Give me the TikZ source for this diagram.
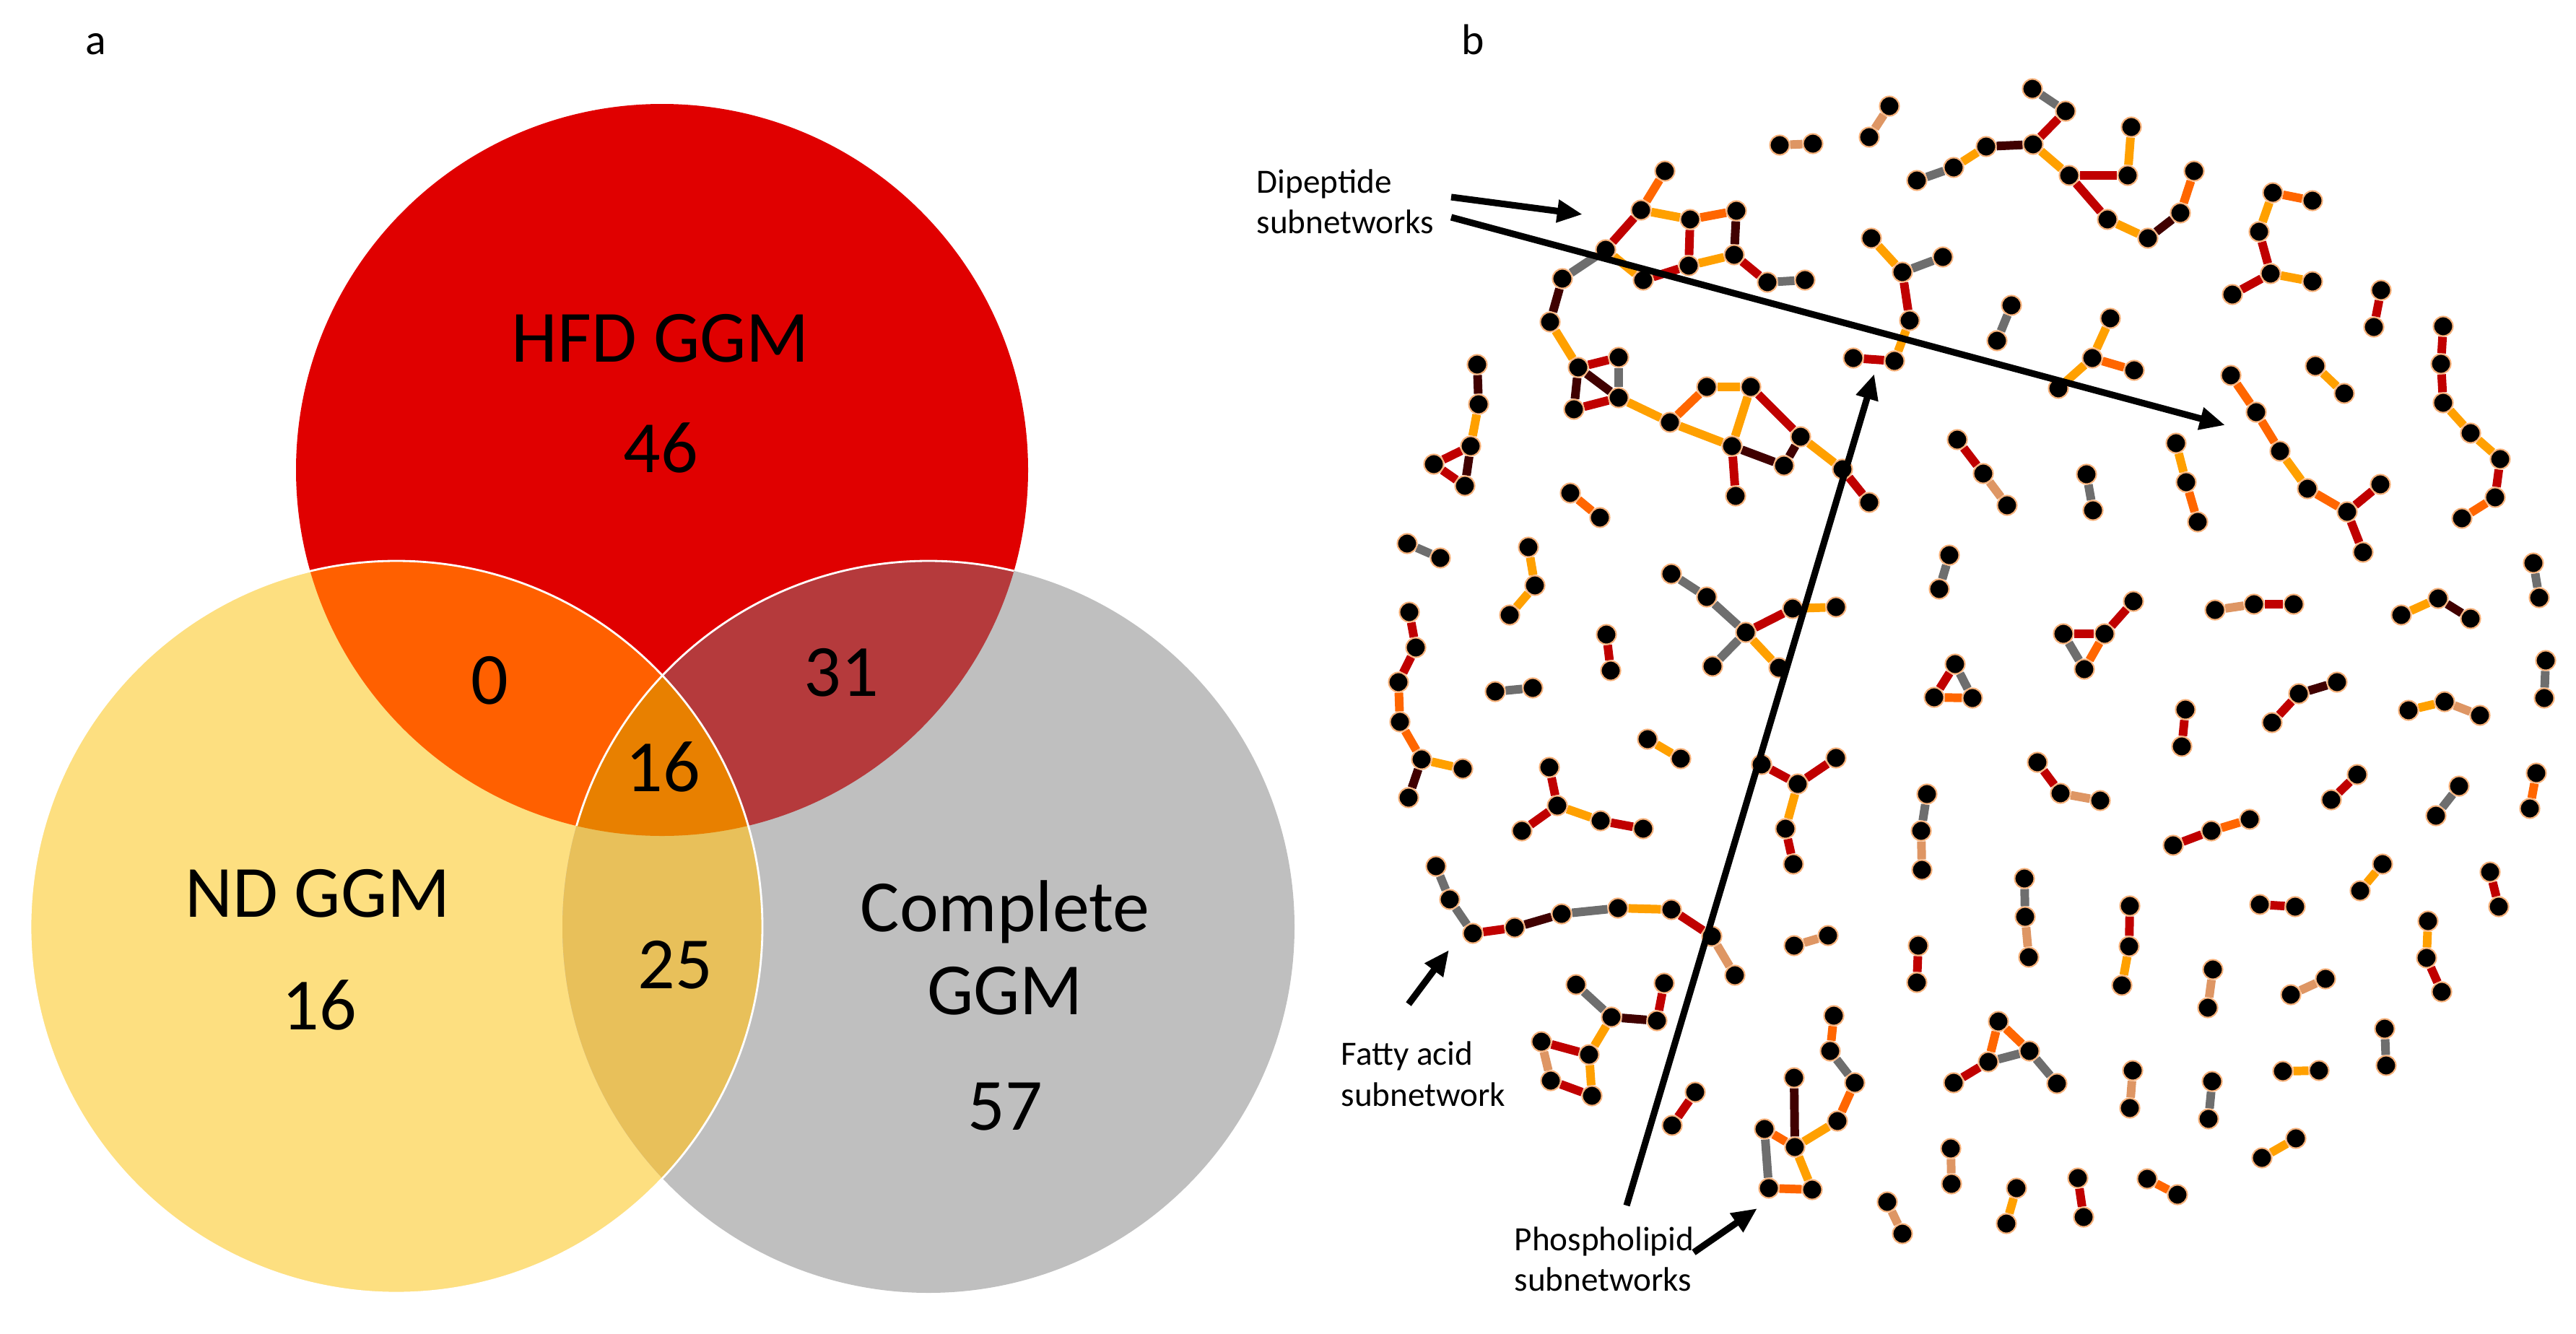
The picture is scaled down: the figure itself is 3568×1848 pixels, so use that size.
\documentclass[tikz,border=0pt]{standalone}
\usepackage{fontspec}
\setmainfont{Carlito}
\usetikzlibrary{arrows.meta}
\pgfdeclarelayer{edges}
\pgfsetlayers{edges,main}

\definecolor{hfdfill}{RGB}{224,0,0}
\definecolor{ndfill}{RGB}{253,223,128}
\definecolor{cgmfill}{RGB}{191,191,191}
\definecolor{hfdnd}{RGB}{255,96,0}
\definecolor{hfdcgm}{RGB}{181,58,60}
\definecolor{ndcgm}{RGB}{232,192,90}
\definecolor{allfill}{RGB}{232,128,0}
\definecolor{lamber}{RGB}{255,160,0}
\definecolor{lorange}{RGB}{255,102,0}
\definecolor{lred}{RGB}{192,0,0}
\definecolor{ldark}{RGB}{64,0,0}
\definecolor{lgray}{RGB}{110,110,110}
\definecolor{ltan}{RGB}{222,150,100}
\definecolor{ring}{RGB}{245,175,120}

\tikzset{
  met/.style={circle, fill=black, draw=ring, line width=0.6pt, minimum size=0.27cm, inner sep=0pt},
  eamb/.style={draw=lamber, line width=3.4pt},
  eorg/.style={draw=lorange, line width=3.4pt},
  ered/.style={draw=lred, line width=3.4pt},
  edrk/.style={draw=ldark, line width=3.4pt},
  egry/.style={draw=lgray, line width=3.4pt},
  etan/.style={draw=ltan, line width=3.4pt},
  vlab/.style={font=\fontsize{29}{35}\selectfont, anchor=base, inner sep=0pt},
  slab/.style={font=\fontsize{13.4}{16}\selectfont, anchor=base west, inner sep=0pt},
  plab/.style={font=\fontsize{17}{20}\selectfont, anchor=base west, inner sep=0pt},
  callout/.style={-{Triangle[length=10pt,width=8.5pt]}, line width=2.6pt}
}

\begin{document}
\begin{tikzpicture}[x=0.01cm, y=-0.01cm]
\useasboundingbox (0,0) rectangle (3568,1848);

\coordinate (hfd) at (917,651);
\coordinate (nd) at (549,1284);
\coordinate (cgm) at (1286,1284);
\fill[hfdfill] (hfd) circle (507);
\fill[ndfill] (nd) circle (507);
\fill[cgmfill] (cgm) circle (507);
\begin{scope}
\clip (hfd) circle (507);
\fill[hfdnd] (nd) circle (507);
\fill[hfdcgm] (cgm) circle (507);
\end{scope}
\begin{scope}
\clip (nd) circle (507);
\fill[ndcgm] (cgm) circle (507);
\clip (hfd) circle (507);
\fill[allfill] (cgm) circle (507);
\end{scope}
\draw[white, line width=0.8pt] (nd) circle (507);
\begin{scope}
\clip (hfd) circle (507);
\draw[white, line width=0.8pt] (cgm) circle (507);
\end{scope}

\node[vlab] (hfdlab) at (915,501) {HFD GGM};
\node[vlab] (hfdnum) at (915,654) {46};
\node[vlab] (hnnum) at (678,975) {0};
\node[vlab] (hcnum) at (1165,964) {31};
\node[vlab] (allnum) at (918,1096) {16};
\node[vlab] (ndlab) at (440,1270) {ND GGM};
\node[vlab] (ndnum) at (442,1426) {16};
\node[vlab] (ncnum) at (935,1369) {25};
\node[vlab] (cgmlab) at (1392,1290) {Complete};
\node[vlab] (cgmlab2) at (1392,1405) {GGM};
\node[vlab] (cgmnum) at (1392,1565) {57};

\node[plab] (pa) at (118,75) {a};
\node[plab] (pb) at (2024,75) {b};

\foreach \n/\x/\y in {d1a/2465/201, d1b/2511/199, d2a/2589/190, d2b/2617/147,
  g0/2655/250, g1/2706/232, g2/2751/203, g3/2816/200, g4/2815/123, g5/2861/154, g6/2866/243,
  g7/2947/243, g8/2952/176, g9/2919/304, g10/2975/330, g11/3020/295, g12/3039/237,
  p1/3148/267, p2/3203/278, p3/3129/321, p4/3145/379, p5/3203/390, p6/3092/408,
  d3a/3298/402, d3b/3288/453,
  q1/3384/452, q2/3381/504, q3/3384/558, q4/3422/600, q5/3463/636, q6/3456/689, q7/3410/718,
  d4a/3207/507, d4b/3247/545,
  r1/3090/520, r2/3125/571, r3/3158/625, r4/3196/677, r5/3251/709, r6/3297/671, r7/3273/765,
  d5a/2786/423, d5b/2766/472,
  s1/2923/441, s2/2898/496, s3/2956/513, s4/2851/538,
  c6a/2711/609, c6b/2747/656, c6c/2780/700, d7a/2890/657, d7b/2899/707,
  c8a/3014/614, c8b/3028/668, c8c/3044/723}
  \node[met] (\n) at (\x,\y) {};

\foreach \n/\x/\y in {t1/2306/237, t2/2273/291, t3/2341/304, t4/2405/292, t5/2402/353,
  t6/2339/368, t7/2224/346, t8/2276/388, t9/2164/386, t10/2448/391, t11/2500/388,
  t12/2147/446, t13/2186/509, t14/2242/495, t15/2242/551, t16/2180/567, t17/2313/585,
  t18/2364/536, t19/2425/536, t20/2399/618, t21/2494/605, t22/2471/645, t23/2404/687,
  t24/2552/650, t25/2589/696,
  u1/2592/330, u2/2635/377, u3/2691/356, u4/2645/444, u5/2624/500, u6/2567/496,
  v1/2046/505, v2/2048/560, v3/2037/618, v4/1986/643, v5/2029/673,
  d9a/2175/683, d9b/2216/717, d10a/1949/753, d10b/1995/773,
  c11a/2117/758, c11b/2126/811, c11c/2091/852,
  w1/1952/848, w2/1961/897, w3/1937/945, w4/1939/1000, w5/1969/1052, w6/2026/1065, w7/1951/1105,
  d12a/2071/958, d12b/2123/953, d13a/2225/879, d13b/2231/929,
  x1/2315/795, x2/2364/827, x3/2418/876, x4/2483/843, x5/2543/841, x6/2372/923, x7/2464/925,
  d14a/2700/769, d14b/2686/816, c15a/2708/920, c15b/2679/966, c15c/2732/967,
  d16a/2282/1024, d16b/2328/1051,
  y1/2146/1063, y2/2157/1116, y3/2108/1151, y4/2217/1137, y5/2276/1148,
  z1/2440/1059, z2/2490/1086, z3/2543/1050, z4/2473/1148, z5/2484/1197,
  c17a/2669/1100, c17b/2661/1151, c17c/2662/1205}
  \node[met] (\n) at (\x,\y) {};

\foreach \n/\x/\y in {a1/2858/878, a2/2915/878, a3/2955/833, a4/2887/927,
  c18a/3068/845, c18b/3122/837, c18c/3177/837, c19a/3326/852, c19b/3377/829, c19c/3422/857,
  d20a/3509/780, d20b/3517/828, d21a/3027/983, d21b/3022/1034,
  c22a/3147/1001, c22b/3184/961, c22c/3237/945, c23a/3336/984, c23b/3386/972, c23c/3435/991,
  d24a/3526/915, d24b/3524/967, c25a/2822/1056, c25b/2854/1099, c25c/2909/1109,
  d26a/3265/1073, d26b/3229/1108, d27a/3406/1089, d27b/3374/1130, d28a/3513/1071, d28b/3504/1120,
  c29a/3010/1171, c29b/3063/1151, c29c/3116/1135, d30a/3300/1197, d30b/3269/1234,
  d31a/3449/1208, d31b/3461/1256,
  c32a/2804/1217, c32b/2805/1270, c32c/2810/1326, d33a/2657/1310, d33b/2655/1361,
  c34a/2950/1255, c34b/2949/1311, c34c/2939/1365, d35a/3130/1253, d35b/3179/1256,
  c36a/3363/1276, c36b/3361/1327, c36c/3382/1374, d37a/3065/1343, d37b/3058/1396,
  d38a/3173/1378, d38b/3221/1356,
  b1/2768/1415, b2/2811/1456, b3/2754/1471, b4/2706/1500, b5/2849/1501,
  d39a/2954/1483, d39b/2950/1535, d40a/3064/1498, d40b/3059/1550,
  d41a/3162/1484, d41b/3212/1483, d42a/3303/1425, d42b/3305/1476,
  d43a/2702/1591, d43b/2703/1640, d44a/2793/1646, d44b/2779/1695,
  d45a/2878/1632, d45b/2886/1686, d46a/2974/1633, d46b/3016/1655,
  d47a/3133/1604, d47b/3180/1577}
  \node[met] (\n) at (\x,\y) {};

\foreach \n/\x/\y in {f1/1989/1200, f2/2008/1246, f3/2040/1293, f4/2098/1285, f5/2163/1266,
  f6/2241/1258, f7/2315/1260, f8/2371/1297, f9/2403/1351,
  h1/2183/1364, h2/2232/1409, h3/2295/1414, h4/2305/1362, h5/2201/1461, h6/2135/1443,
  h7/2148/1497, h8/2205/1518, d48a/2348/1513, d48b/2316/1559,
  k1/2540/1407, k2/2535/1456, k3/2569/1500, k4/2545/1553, k5/2486/1589, k6/2485/1493,
  k7/2444/1564, k8/2450/1646, k9/2510/1648,
  d49a/2485/1310, d49b/2532/1296, d50a/2614/1665, d50b/2635/1709}
  \node[met] (\n) at (\x,\y) {};

\begin{pgfonlayer}{edges}
\foreach \a/\b/\s in {d1a/d1b/etan, d2a/d2b/etan,
  g0/g1/egry, g1/g2/eamb, g2/g3/edrk, g3/g5/ered, g5/g4/egry, g3/g6/eamb, g6/g7/ered,
  g7/g8/eamb, g6/g9/ered, g9/g10/eamb, g10/g11/edrk, g11/g12/eorg,
  p1/p2/eorg, p1/p3/eamb, p3/p4/ered, p4/p5/eamb, p4/p6/ered, d3a/d3b/ered,
  q1/q2/ered, q2/q3/ered, q3/q4/eamb, q4/q5/eamb, q5/q6/ered, q6/q7/eorg, d4a/d4b/eamb,
  r1/r2/eorg, r2/r3/eorg, r3/r4/eamb, r4/r5/eorg, r5/r6/ered, r5/r7/ered, d5a/d5b/egry,
  s1/s2/eamb, s2/s3/eorg, s2/s4/eamb, c6a/c6b/ered, c6b/c6c/etan, d7a/d7b/egry,
  c8a/c8b/eamb, c8b/c8c/eorg,
  t1/t2/eorg, t2/t3/eamb, t3/t4/eorg, t4/t5/edrk, t3/t6/ered, t5/t6/eamb, t2/t7/ered,
  t7/t8/eamb, t8/t6/ered, t7/t9/egry, t5/t10/ered, t10/t11/egry, t9/t12/edrk, t12/t13/eamb,
  t13/t14/ered, t14/t15/egry, t13/t15/edrk, t13/t16/edrk, t16/t15/ered, t15/t17/eamb,
  t17/t18/eorg, t18/t19/eamb, t17/t20/eamb, t19/t20/eamb, t19/t21/ered, t21/t22/edrk,
  t20/t22/edrk, t20/t23/ered, t21/t24/eamb, t24/t25/ered,
  u1/u2/eamb, u2/u3/egry, u2/u4/ered, u4/u5/eamb, u5/u6/ered,
  v1/v2/edrk, v2/v3/eamb, v3/v4/ered, v4/v5/ered, v3/v5/edrk,
  d9a/d9b/eorg, d10a/d10b/egry, c11a/c11b/eamb, c11b/c11c/eamb,
  w1/w2/ered, w2/w3/ered, w3/w4/eorg, w4/w5/eorg, w5/w6/eamb, w5/w7/edrk,
  d12a/d12b/egry, d13a/d13b/ered,
  x1/x2/egry, x2/x3/egry, x3/x4/ered, x4/x5/eamb, x3/x6/egry, x3/x7/eamb,
  d14a/d14b/egry, c15a/c15b/ered, c15a/c15c/egry, c15b/c15c/eorg, d16a/d16b/eamb,
  y1/y2/ered, y2/y3/ered, y2/y4/eamb, y4/y5/ered,
  z1/z2/ered, z2/z3/ered, z2/z4/eamb, z4/z5/ered, c17a/c17b/egry, c17b/c17c/etan}
  \draw[\s] (\a) -- (\b);
\foreach \a/\b/\s in {a1/a2/ered, a2/a3/ered, a1/a4/egry, a2/a4/eorg,
  c18a/c18b/etan, c18b/c18c/ered, c19a/c19b/eamb, c19b/c19c/edrk,
  d20a/d20b/egry, d21a/d21b/ered, c22a/c22b/ered, c22b/c22c/edrk,
  c23a/c23b/eamb, c23b/c23c/etan, d24a/d24b/egry, c25a/c25b/ered, c25b/c25c/etan,
  d26a/d26b/ered, d27a/d27b/egry, d28a/d28b/eorg, c29a/c29b/ered, c29b/c29c/eorg,
  d30a/d30b/eamb, d31a/d31b/ered, c32a/c32b/egry, c32b/c32c/etan, d33a/d33b/ered,
  c34a/c34b/ered, c34b/c34c/eamb, d35a/d35b/ered, c36a/c36b/eamb, c36b/c36c/ered,
  d37a/d37b/etan, d38a/d38b/etan,
  b1/b2/eorg, b1/b3/eorg, b2/b3/egry, b3/b4/ered, b2/b5/egry,
  d39a/d39b/etan, d40a/d40b/egry, d41a/d41b/eamb, d42a/d42b/egry, d43a/d43b/etan,
  d44a/d44b/eamb, d45a/d45b/ered, d46a/d46b/eorg, d47a/d47b/eamb,
  f1/f2/egry, f2/f3/egry, f3/f4/ered, f4/f5/edrk, f5/f6/egry, f6/f7/eamb, f7/f8/ered, f8/f9/etan,
  h1/h2/egry, h2/h3/edrk, h3/h4/ered, h2/h5/eamb, h5/h6/ered, h6/h7/etan, h7/h8/ered, h5/h8/eamb,
  d48a/d48b/ered,
  k1/k2/eorg, k2/k3/egry, k3/k4/eorg, k4/k5/eamb, k5/k6/edrk, k7/k5/eorg, k7/k8/egry,
  k8/k9/eorg, k5/k9/eamb, d49a/d49b/etan, d50a/d50b/etan}
  \draw[\s] (\a) -- (\b);
\end{pgfonlayer}

\node[slab] (dip1) at (1740,267) {Dipeptide};
\node[slab] (dip2) at (1740,323) {subnetworks};
\node[slab] (fat1) at (1857,1475) {Fatty acid};
\node[slab] (fat2) at (1857,1532) {subnetwork};
\node[slab] (pho1) at (2097,1732) {Phospholipid};
\node[slab] (pho2) at (2097,1788) {subnetworks};

\coordinate (dipT1) at (2010,273);
\coordinate (dipH1) at (2192,297);
\coordinate (dipT2) at (2010,301);
\coordinate (dipH2) at (3082,589);
\coordinate (fatT) at (1951,1391);
\coordinate (fatH) at (2007,1316);
\coordinate (phoT1) at (2253,1670);
\coordinate (phoH1) at (2596,518);
\coordinate (phoT2) at (2346,1735);
\coordinate (phoH2) at (2434,1674);
\draw[callout] (dipT1) -- (dipH1);
\draw[callout] (dipT2) -- (dipH2);
\draw[callout] (fatT) -- (fatH);
\draw[callout] (phoT1) -- (phoH1);
\draw[callout] (phoT2) -- (phoH2);
\end{tikzpicture}
\end{document}
